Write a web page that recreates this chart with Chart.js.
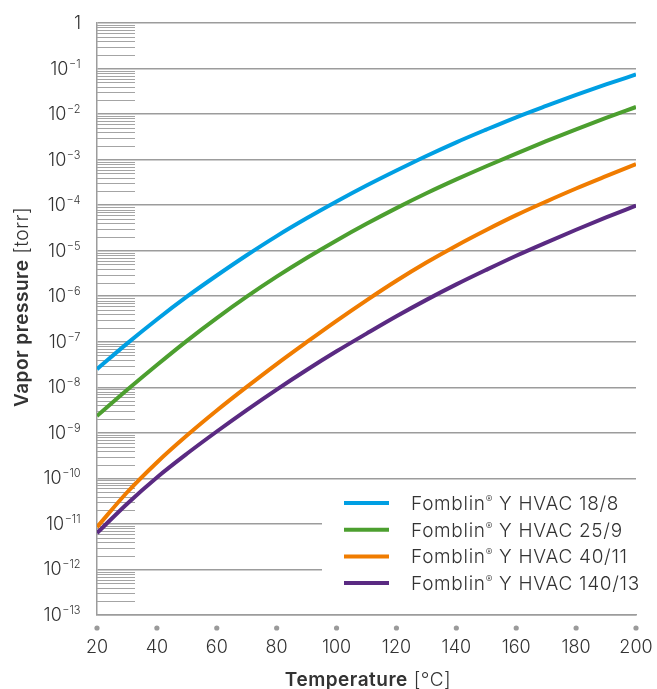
<!DOCTYPE html>
<html>
<head>
<meta charset="utf-8">
<script src="https://cdn.jsdelivr.net/npm/chart.js@4.4.1/dist/chart.umd.min.js"></script>
<style>
  html, body { margin: 0; padding: 0; background: #fff; }
  #wrap { width: 657px; height: 689px; position: relative; }
</style>
</head>
<body>
<div id="wrap"><canvas id="vaporChart"></canvas></div>
<script>
// temperatures [°C]
const temps = [20, 30, 40, 50, 60, 70, 80, 90, 100, 110, 120, 130, 140, 150, 160, 170, 180, 190, 200];

// vapor pressure [torr]
const hvac18 = [2.51e-8, 9.12e-8, 3.09e-7, 9.77e-7, 2.85e-6, 7.94e-6, 2.09e-5, 5.13e-5, 1.20e-4, 2.69e-4,
                5.75e-4, 1.20e-3, 2.40e-3, 4.57e-3, 8.51e-3, 1.51e-2, 2.63e-2, 4.47e-2, 7.41e-2];
const hvac25 = [2.34e-9, 8.71e-9, 3.09e-8, 1.05e-7, 3.31e-7, 9.77e-7, 2.69e-6, 6.92e-6, 1.68e-5, 3.89e-5,
                8.61e-5, 1.82e-4, 3.67e-4, 7.16e-4, 1.36e-3, 2.54e-3, 4.62e-3, 8.22e-3, 1.43e-2];
const hvac40 = [8.51e-12, 4.90e-11, 2.24e-10, 8.71e-10, 3.09e-9, 1.02e-8, 3.24e-8, 9.77e-8, 2.88e-7, 8.13e-7,
                2.19e-6, 5.50e-6, 1.29e-5, 2.85e-5, 6.03e-5, 1.20e-4, 2.32e-4, 4.32e-4, 7.94e-4];
const hvac140 = [6.31e-12, 2.75e-11, 1.05e-10, 3.47e-10, 1.07e-9, 3.16e-9, 8.91e-9, 2.40e-8, 6.17e-8, 1.51e-7,
                 3.63e-7, 8.32e-7, 1.82e-6, 3.80e-6, 7.76e-6, 1.51e-5, 2.88e-5, 5.37e-5, 9.77e-5];

const seriesNames = ['Y HVAC 18/8', 'Y HVAC 25/9', 'Y HVAC 40/11', 'Y HVAC 140/13'];
const seriesColors = ['#009fe3', '#4c9f2f', '#f07c00', '#5a2a82'];

// tick labels
const xTicks = [20, 40, 60, 80, 100, 120, 140, 160, 180, 200];
const yTickExps = [0, -1, -2, -3, -4, -5, -6, -7, -8, -9, -10, -11, -12, -13];

const gridGray = '#9c9c9c';
const textGray = '#333';
const lightFont = '"Inter", "Liberation Sans", sans-serif';

const toPoints = arr => arr.map((v, i) => ({ x: temps[i], y: v }));

// minor log lines in the left strip, white box behind the legend
const backdropPlugin = {
    id: 'backdrop',
    beforeDatasetsDraw(chart) {
        const { ctx, chartArea, scales } = chart;
        const y = scales.y;
        ctx.save();
        ctx.strokeStyle = '#a4a4a4';
        ctx.lineWidth = 1;
        for (let e = -13; e < 0; e++) {
            for (let m = 2; m <= 9; m++) {
                const py = Math.round(y.getPixelForValue(m * Math.pow(10, e))) + 0.5;
                ctx.beginPath();
                ctx.moveTo(chartArea.left, py);
                ctx.lineTo(chartArea.left + 38, py);
                ctx.stroke();
            }
        }
        // legend box
        ctx.fillStyle = '#fff';
        ctx.fillRect(322, 490, chartArea.right - 322 + 2, 118);
        ctx.restore();
    }
};

// draws "bold part" + "normal part" centred on 0,0 of the current transform
function twoWeightText(ctx, boldPart, normalPart, cx, baseY) {
    ctx.letterSpacing = '0.5px';
    ctx.font = '600 19px ' + lightFont;
    const wb = ctx.measureText(boldPart).width;
    ctx.font = '300 19px ' + lightFont;
    const wn = ctx.measureText(normalPart).width;
    const sx = cx - (wb + wn) / 2;
    ctx.font = '600 19px ' + lightFont;
    ctx.fillText(boldPart, sx, baseY);
    ctx.font = '300 19px ' + lightFont;
    ctx.fillText(normalPart, sx + wb, baseY);
    ctx.letterSpacing = '0px';
}

// axis labels, dots, titles and legend
const labelsPlugin = {
    id: 'labels',
    afterDraw(chart) {
        const { ctx, scales } = chart;
        const x = scales.x, y = scales.y;
        ctx.save();
        ctx.fillStyle = textGray;
        ctx.textBaseline = 'alphabetic';

        // y tick labels
        const rightEdge = 80;
        yTickExps.forEach(e => {
            const py = y.getPixelForValue(Math.pow(10, e));
            ctx.textAlign = 'left';
            if (e === 0) {
                ctx.font = '300 18px ' + lightFont;
                const w = ctx.measureText('1').width;
                ctx.fillText('1', rightEdge + 1 - w, py + 6);
                return;
            }
            const exp = '\u2212' + Math.abs(e);
            ctx.font = '300 11px ' + lightFont;
            const we = ctx.measureText(exp).width;
            ctx.font = '300 18px ' + lightFont;
            const wb = ctx.measureText('10').width;
            const x0 = rightEdge - we - wb;
            ctx.fillText('10', x0, py + 6);
            ctx.font = '300 11px ' + lightFont;
            ctx.fillText(exp, x0 + wb + 0.5, py - 1);
        });

        // x ticks: dots + labels
        xTicks.forEach(t => {
            const px = x.getPixelForValue(t);
            ctx.fillStyle = '#9a9a9a';
            ctx.beginPath();
            ctx.arc(px, 628, 2.6, 0, Math.PI * 2);
            ctx.fill();
            ctx.fillStyle = textGray;
            ctx.font = '300 18px ' + lightFont;
            ctx.textAlign = 'center';
            ctx.fillText(String(t), px, 653);
        });

        // axis titles
        ctx.textAlign = 'left';
        twoWeightText(ctx, 'Temperature', ' [°C]', 368, 686);
        ctx.save();
        ctx.translate(28, 307);
        ctx.rotate(-Math.PI / 2);
        twoWeightText(ctx, 'Vapor pressure', ' [torr]', 0, 0);
        ctx.restore();

        // legend
        seriesNames.forEach((name, i) => {
            const ly = 503 + i * 26.7;
            ctx.strokeStyle = seriesColors[i];
            ctx.lineWidth = 4;
            ctx.beginPath();
            ctx.moveTo(344, ly);
            ctx.lineTo(389, ly);
            ctx.stroke();
            ctx.fillStyle = textGray;
            ctx.textAlign = 'left';
            ctx.letterSpacing = '0.7px';
            ctx.font = '300 19px ' + lightFont;
            const head = 'Fomblin';
            const wh = ctx.measureText(head).width;
            ctx.fillText(head, 411, ly + 7);
            ctx.font = '300 10px ' + lightFont;
            const wr = ctx.measureText('®').width;
            ctx.fillText('®', 411 + wh, ly);
            ctx.font = '300 19px ' + lightFont;
            ctx.fillText(' ' + name, 411 + wh + wr, ly + 7);
            ctx.letterSpacing = '0px';
        });

        ctx.restore();
    }
};

const datasets = [hvac18, hvac25, hvac40, hvac140].map((arr, i) => ({
    label: 'Fomblin® ' + seriesNames[i],
    data: toPoints(arr),
    borderColor: seriesColors[i],
    borderWidth: 4,
    pointRadius: 0,
    fill: false,
    cubicInterpolationMode: 'monotone'
}));

new Chart(document.getElementById('vaporChart'), {
    type: 'line',
    data: { datasets },
    options: {
        responsive: true,
        maintainAspectRatio: false,
        animation: false,
        layout: { padding: { left: 97, right: 21, top: 23, bottom: 74 } },
        plugins: { legend: { display: false }, tooltip: { enabled: false } },
        scales: {
            x: {
                type: 'linear',
                min: 20,
                max: 200,
                grid: { display: false, drawTicks: false },
                border: { display: true, color: gridGray, width: 1.5 },
                ticks: { display: false },
                afterFit(scale) { scale.height = 0; }
            },
            y: {
                type: 'logarithmic',
                min: 1e-13,
                max: 1,
                afterBuildTicks(scale) {
                    scale.ticks = yTickExps.map(e => ({ value: Math.pow(10, e), major: true }));
                },
                grid: { color: gridGray, lineWidth: 1.5, drawTicks: false },
                border: { display: true, color: gridGray, width: 1.5 },
                ticks: { display: false },
                afterFit(scale) { scale.width = 0; }
            }
        }
    },
    plugins: [backdropPlugin, labelsPlugin]
});
</script>
</body>
</html>
